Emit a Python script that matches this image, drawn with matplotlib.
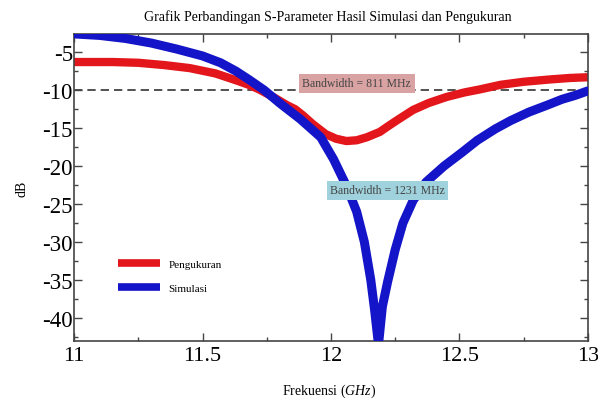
import numpy as np
import matplotlib
matplotlib.use("Agg")
import matplotlib.pyplot as plt
from matplotlib.ticker import MultipleLocator
from matplotlib.lines import Line2D

plt.rcParams['font.family'] = ['Liberation Serif', 'DejaVu Serif']
plt.rcParams['axes.unicode_minus'] = False
plt.rcParams['mathtext.fontset'] = 'custom'
plt.rcParams['mathtext.rm'] = 'Liberation Serif'
plt.rcParams['mathtext.it'] = 'Liberation Serif:italic'

# data
freq_sim = [11.00, 11.10, 11.20, 11.30, 11.40, 11.50, 11.57, 11.63, 11.68, 11.74,
            11.80, 11.88, 11.96, 12.01, 12.06, 12.10, 12.13, 12.155, 12.17, 12.185,
            12.20, 12.22, 12.25, 12.28, 12.32, 12.37, 12.44, 12.51, 12.57, 12.64,
            12.70, 12.77, 12.84, 12.90, 12.95, 13.00]
s11_sim = [-2.6, -2.8, -3.2, -3.8, -4.6, -5.5, -6.4, -7.5, -8.6, -10.0,
           -11.7, -13.8, -16.2, -19.1, -22.6, -26.0, -30.0, -35.0, -39.0, -43.5,
           -38.5, -35.3, -31.0, -27.5, -24.5, -22.1, -20.0, -18.2, -16.6, -15.1,
           -14.0, -12.9, -12.0, -11.2, -10.7, -10.1]

freq_meas = [11.00, 11.15, 11.25, 11.35, 11.45, 11.55, 11.63, 11.68, 11.72, 11.78,
             11.83, 11.86, 11.89, 11.93, 11.98, 12.02, 12.06, 12.10, 12.14, 12.19,
             12.22, 12.26, 12.32, 12.38, 12.45, 12.52, 12.58, 12.66, 12.75, 12.85,
             12.93, 13.00]
s11_meas = [-6.3, -6.3, -6.4, -6.7, -7.1, -7.8, -8.7, -9.3, -9.9, -11.0,
            -12.0, -12.5, -13.3, -14.5, -15.8, -16.4, -16.7, -16.6, -16.2, -15.5,
            -14.8, -13.9, -12.6, -11.7, -10.9, -10.3, -9.9, -9.3, -8.9, -8.6,
            -8.4, -8.3]

threshold = -10
bw_meas_label = "Bandwidth = 811 MHz"
bw_sim_label = "Bandwidth = 1231 MHz"

red = '#e3161c'
blue = '#1414c8'

fig = plt.figure(figsize=(5.98, 4.06), dpi=100)
ax = fig.add_axes([0.124, 0.158, 0.859, 0.756])

ax.axhline(threshold, color='#333333', ls=(0, (5, 3)), lw=1.2, zorder=1)
ax.plot(freq_meas, s11_meas, color=red, lw=6, solid_capstyle='round',
        solid_joinstyle='round', zorder=2)
ax.plot(freq_sim, s11_sim, color=blue, lw=6.5, solid_capstyle='round',
        solid_joinstyle='round', zorder=3)

ax.set_xlim(11, 13)
ax.set_ylim(-43, -2.6)
ax.xaxis.set_major_locator(MultipleLocator(0.5))
ax.xaxis.set_minor_locator(MultipleLocator(0.25))
ax.yaxis.set_major_locator(MultipleLocator(5))
ax.yaxis.set_minor_locator(MultipleLocator(2.5))
ax.set_xticks([11, 11.5, 12, 12.5, 13], ['11', '11.5', '12', '12.5', '13'])

ax.tick_params(which='both', direction='in', top=True, right=True, color='#444444')
ax.tick_params(which='major', length=6, width=1)
ax.tick_params(which='minor', length=3, width=1)
ax.tick_params(axis='x', which='major', labelsize=16, pad=4)
ax.tick_params(axis='y', which='major', labelsize=16.5, pad=1)
ax.tick_params(top=True, labeltop=False, right=True, labelright=False)
for s in ax.spines.values():
    s.set_color('#444444')
    s.set_linewidth(1.2)

ax.text(12.10, -9.1, bw_meas_label, fontsize=8.5, color='#444444', ha='center', va='center',
        bbox=dict(boxstyle='square,pad=0.3', fc='#d9a3a3', ec='none'), zorder=4)
ax.text(12.22, -23.2, bw_sim_label, fontsize=8.5, color='#444444', ha='center', va='center',
        bbox=dict(boxstyle='square,pad=0.3', fc='#9fd2dc', ec='none'), zorder=4)

handles = [Line2D([], [], color=red, lw=5.5, solid_capstyle='butt'),
           Line2D([], [], color=blue, lw=5.5, solid_capstyle='butt')]
ax.legend(handles, ['Pengukuran', 'Simulasi'], loc='upper left',
          bbox_to_anchor=(0.065, 0.30), frameon=False, fontsize=8,
          handlelength=3.8, handletextpad=0.8, labelspacing=1.3)

fig.text(0.548, 0.958, "Grafik Perbandingan S-Parameter Hasil Simulasi dan Pengukuran",
         ha='center', va='center', fontsize=10)
fig.text(0.037, 0.535, "dB", rotation=90, ha='center', va='center', fontsize=10)
fig.text(0.550, 0.037, "Frekuensi $\\it{(GHz)}$", ha='center', va='center', fontsize=10)

fig.savefig("out.png", dpi=100)
